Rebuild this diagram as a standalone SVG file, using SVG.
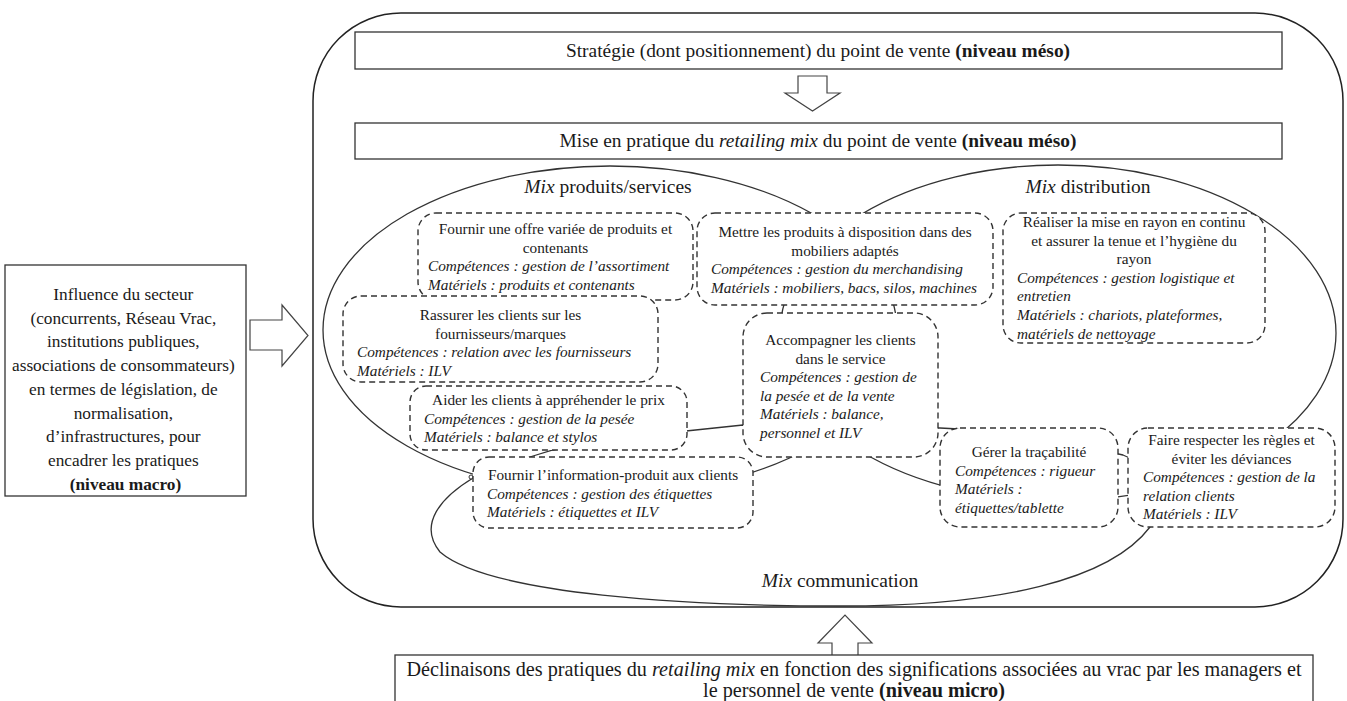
<svg xmlns="http://www.w3.org/2000/svg" width="1347" height="701" viewBox="0 0 1347 701">
<defs>
<style>
.t{font-family:"Liberation Serif","Times New Roman",serif;fill:#1a1a1a}
.m{font-size:19.4px}
.d{font-size:20.2px}
.l{font-size:17.3px}
.x{font-size:19.5px}
.n{font-size:15.3px}
.i{font-style:italic}
.b{font-weight:bold}
.c{text-anchor:middle}
.box{fill:#fff;stroke:#333;stroke-width:1.3}
.dash{fill:#fff;stroke:#333;stroke-width:1.4;stroke-dasharray:6 4}
.curve{fill:none;stroke:#333;stroke-width:1.3}
.arrow{fill:#fff;stroke:#444;stroke-width:1.2}
</style>
</defs>
<rect width="1347" height="701" fill="#fff"/>
<g id="frame">
<rect x="313" y="13" width="1030" height="594" rx="88" ry="88" fill="none" stroke="#222" stroke-width="1.5"/>
</g>
<g id="connectors">
<ellipse class="curve" cx="610" cy="330" rx="287" ry="164"/>
<ellipse class="curve" cx="1058" cy="333" rx="278" ry="168"/>
<path class="curve" d="M473,478 C440,498 418,525 440,552 C490,595 690,606 840,606 C1000,606 1110,580 1150,527 C1165,505 1160,470 1123,455 C1060,440 1000,430 940,428 L743,425 L686,431 C640,437 580,445 553,450 L533,456 C510,463 490,470 473,478 Z"/>
<circle cx="471" cy="477" r="2" fill="#fff" stroke="#333" stroke-width="1"/>
<path class="arrow" d="M798,76 H827 V93 H840 L812.5,111 L785,93 H798 Z"/>
<path class="arrow" d="M250,320 H282 V305 L308,335.5 L282,366 V350 H250 Z"/>
<path class="arrow" d="M832,656 V643 H818 L845,615 L872,643 H858 V656"/>
</g>
<g id="strategie">
<rect class="box" x="355" y="32" width="927" height="37"/>
<text class="t m c" x="818" y="57">Stratégie (dont positionnement) du point de vente <tspan class="b">(niveau méso)</tspan></text>
</g>
<g id="mise-en-pratique">
<rect class="box" x="355" y="123" width="927" height="36"/>
<text class="t m c" x="818" y="147">Mise en pratique du <tspan class="i">retailing mix</tspan> du point de vente <tspan class="b">(niveau méso)</tspan></text>
</g>
<g id="influence">
<rect class="box" x="5" y="265" width="241" height="231"/>
<text class="t l c" x="125.5">
<tspan x="125.5" y="300">Influence du secteur</tspan>
<tspan x="125.5" y="323.7">(concurrents, Réseau Vrac,</tspan>
<tspan x="125.5" y="347.4">institutions publiques,</tspan>
<tspan x="125.5" y="371.1">associations de consommateurs)</tspan>
<tspan x="125.5" y="394.8">en termes de législation, de</tspan>
<tspan x="125.5" y="418.5">normalisation,</tspan>
<tspan x="125.5" y="442.2">d’infrastructures, pour</tspan>
<tspan x="125.5" y="465.9">encadrer les pratiques</tspan>
<tspan x="125.5" y="489.6" class="b">(niveau macro)</tspan>
</text>
</g>
<g id="declinaisons">
<rect class="box" x="395" y="655" width="918" height="60"/>
<text class="t d c"><tspan x="854" y="676">Déclinaisons des pratiques du <tspan class="i">retailing mix</tspan> en fonction des significations associées au vrac par les managers et</tspan><tspan x="854" y="697">le personnel de vente <tspan class="b">(niveau micro)</tspan></tspan></text>
</g>
<g id="labels">
<text class="t x c" x="608" y="193"><tspan class="i">Mix</tspan> produits/services</text>
<text class="t x c" x="1088" y="193"><tspan class="i">Mix</tspan> distribution</text>
<text class="t x c" x="840" y="587"><tspan class="i">Mix</tspan> communication</text>
</g>
<g id="offre">
<rect class="dash" x="418" y="213" width="275" height="87" rx="18"/>
<text class="t n"><tspan x="555.5" y="234" class="c">Fournir une offre variée de produits et</tspan><tspan x="555.5" y="252.6" class="c">contenants</tspan><tspan x="428" y="271.2" class="i">Compétences : gestion de l’assortiment</tspan><tspan x="428" y="289.8" class="i">Matériels : produits et contenants</tspan></text>
</g>
<g id="mettre">
<rect class="dash" x="697" y="213" width="296" height="92" rx="18"/>
<text class="t n"><tspan x="845" y="237" class="c">Mettre les produits à disposition dans des</tspan><tspan x="845" y="255.6" class="c">mobiliers adaptés</tspan><tspan x="711" y="274.2" class="i">Compétences : gestion du merchandising</tspan><tspan x="711" y="292.8" class="i">Matériels : mobiliers, bacs, silos, machines</tspan></text>
</g>
<g id="realiser">
<rect class="dash" x="1003" y="213" width="262" height="130" rx="18"/>
<text class="t n"><tspan x="1134" y="227" class="c">Réaliser la mise en rayon en continu</tspan><tspan x="1134" y="245.6" class="c">et assurer la tenue et l’hygiène du</tspan><tspan x="1134" y="264.2" class="c">rayon</tspan><tspan x="1017" y="282.8" class="i">Compétences : gestion logistique et</tspan><tspan x="1017" y="301.4" class="i">entretien</tspan><tspan x="1017" y="320" class="i">Matériels : chariots, plateformes,</tspan><tspan x="1017" y="338.6" class="i">matériels de nettoyage</tspan></text>
</g>
<g id="rassurer">
<rect class="dash" x="343" y="296" width="315" height="86" rx="18"/>
<text class="t n"><tspan x="500.5" y="320" class="c">Rassurer les clients sur les</tspan><tspan x="500.5" y="338.6" class="c">fournisseurs/marques</tspan><tspan x="357" y="357.2" class="i">Compétences : relation avec les fournisseurs</tspan><tspan x="357" y="375.8" class="i">Matériels : ILV</tspan></text>
</g>
<g id="aider">
<rect class="dash" x="410" y="386" width="277" height="64" rx="16"/>
<text class="t n"><tspan x="548.5" y="405" class="c">Aider les clients à appréhender le prix</tspan><tspan x="424" y="423.6" class="i">Compétences : gestion de la pesée</tspan><tspan x="424" y="442.2" class="i">Matériels : balance et stylos</tspan></text>
</g>
<g id="accompagner">
<rect class="dash" x="743" y="313" width="195" height="144" rx="24"/>
<text class="t n"><tspan x="840.5" y="345" class="c">Accompagner les clients</tspan><tspan x="840.5" y="363.6" class="c">dans le service</tspan><tspan x="760" y="382.2" class="i">Compétences : gestion de</tspan><tspan x="760" y="400.8" class="i">la pesée et de la vente</tspan><tspan x="760" y="419.4" class="i">Matériels : balance,</tspan><tspan x="760" y="438" class="i">personnel et ILV</tspan></text>
</g>
<g id="information">
<rect class="dash" x="473" y="457" width="280" height="71" rx="16"/>
<text class="t n"><tspan x="613" y="480" class="c">Fournir l’information-produit aux clients</tspan><tspan x="487" y="498.6" class="i">Compétences : gestion des étiquettes</tspan><tspan x="487" y="517.2" class="i">Matériels : étiquettes et ILV</tspan></text>
</g>
<g id="tracabilite">
<rect class="dash" x="940" y="428" width="178" height="99" rx="20"/>
<text class="t n"><tspan x="1029" y="457" class="c">Gérer la traçabilité</tspan><tspan x="955" y="475.6" class="i">Compétences : rigueur</tspan><tspan x="955" y="494.2" class="i">Matériels :</tspan><tspan x="955" y="512.8" class="i">étiquettes/tablette</tspan></text>
</g>
<g id="regles">
<rect class="dash" x="1128" y="428" width="207" height="99" rx="20"/>
<text class="t n"><tspan x="1231.5" y="445" class="c">Faire respecter les règles et</tspan><tspan x="1231.5" y="463.6" class="c">éviter les déviances</tspan><tspan x="1143" y="482.2" class="i">Compétences : gestion de la</tspan><tspan x="1143" y="500.8" class="i">relation clients</tspan><tspan x="1143" y="519.4" class="i">Matériels : ILV</tspan></text>
</g>
</svg>
